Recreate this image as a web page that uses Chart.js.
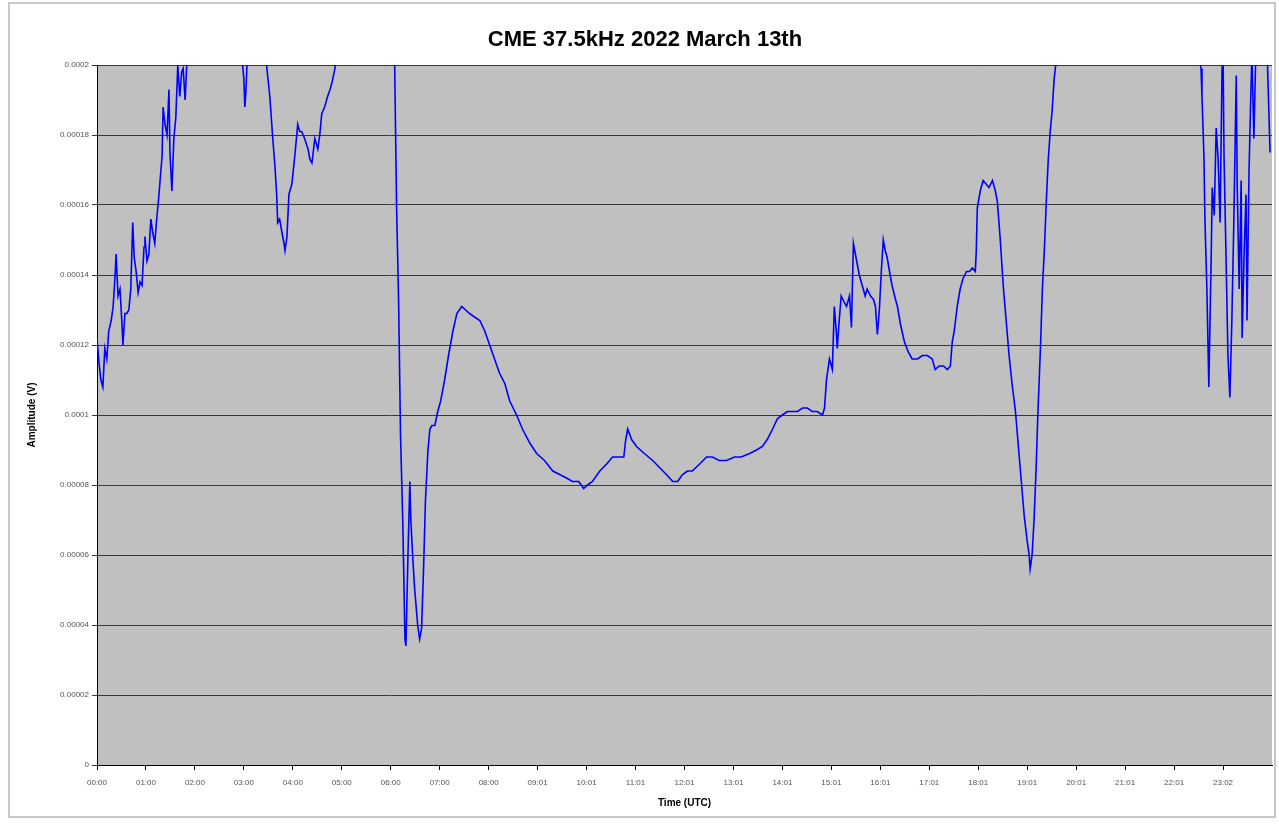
<!DOCTYPE html>
<html><head><meta charset="utf-8">
<script src="https://cdn.jsdelivr.net/npm/chart.js@4"></script>
<style>
html,body{margin:0;padding:0;background:#fff;}
#wrap{position:relative;width:1279px;height:826px;overflow:hidden;}
#frame{position:absolute;left:8px;top:2px;width:1268px;height:816px;border:2px solid #c8c8c8;box-sizing:border-box;}
canvas{position:absolute;left:0;top:0;}
</style></head><body>
<div id="wrap"><div id="frame"></div><canvas id="c" width="1279" height="826"></canvas></div>
<script>
const chartTitle = 'CME 37.5kHz 2022 March 13th';
const xAxisTitle = 'Time (UTC)';
const yAxisTitle = 'Amplitude (V)';
const xTickLabels = ['00:00','01:00','02:00','03:00','04:00','05:00','06:00','07:00','08:00','09:01','10:01','11:01',
  '12:01','13:01','14:01','15:01','16:01','17:01','18:01','19:01','20:01','21:01','22:01','23:02'];
const yTickValues = [0, 0.00002, 0.00004, 0.00006, 0.00008, 0.0001, 0.00012, 0.00014, 0.00016, 0.00018, 0.0002];

// time of day in hours
const timeHours = [
 0.00,0.04,0.08,0.12,0.16,0.20,0.24,0.29,0.33,0.37,0.39,0.43,0.47,0.51,0.53,0.57,0.61,0.65,0.69,0.73,
 0.76,0.80,0.84,0.88,0.92,0.96,0.98,1.02,1.06,1.10,1.14,1.18,1.22,1.26,1.30,1.33,1.35,1.39,1.43,1.47,
 1.49,1.53,1.57,1.61,1.65,1.69,1.73,1.76,1.80,1.84,1.90,2.10,2.40,2.70,2.94,2.98,3.00,3.02,3.04,3.06,
 3.08,3.20,3.35,3.45,3.47,3.53,3.59,3.63,3.67,3.69,3.73,3.78,3.82,3.84,3.88,3.92,3.98,4.04,4.10,4.14,
 4.18,4.24,4.31,4.35,4.39,4.45,4.51,4.55,4.59,4.65,4.71,4.76,4.80,4.86,4.90,5.20,5.60,5.90,6.06,6.08,
 6.12,6.16,6.20,6.245,6.29,6.31,6.35,6.39,6.41,6.45,6.49,6.55,6.59,6.63,6.67,6.71,6.76,6.80,6.84,6.90,
 6.96,7.02,7.10,7.18,7.27,7.35,7.45,7.53,7.61,7.71,7.82,7.92,8.02,8.12,8.22,8.33,8.43,8.57,8.69,8.84,
 8.98,9.14,9.31,9.45,9.59,9.71,9.84,9.94,10.02,10.12,10.27,10.41,10.53,10.65,10.76,10.80,10.84,10.92,11.02,11.18,
 11.35,11.49,11.63,11.76,11.86,11.96,12.06,12.16,12.31,12.45,12.57,12.71,12.86,13.02,13.16,13.33,13.47,13.59,13.69,13.80,
 13.90,14.00,14.10,14.20,14.31,14.41,14.51,14.61,14.71,14.82,14.86,14.90,14.96,15.02,15.06,15.10,15.12,15.16,15.20,15.27,
 15.31,15.37,15.41,15.45,15.49,15.53,15.57,15.63,15.69,15.73,15.80,15.86,15.90,15.94,15.98,16.02,16.06,16.10,16.14,16.20,
 16.24,16.31,16.35,16.41,16.49,16.57,16.65,16.76,16.86,16.96,17.06,17.12,17.20,17.29,17.37,17.43,17.47,17.51,17.57,17.63,
 17.69,17.76,17.82,17.88,17.94,17.96,17.98,18.04,18.10,18.16,18.22,18.29,18.35,18.39,18.45,18.51,18.57,18.63,18.69,18.76,
 18.82,18.88,18.94,19.00,19.04,19.06,19.10,19.14,19.18,19.22,19.27,19.31,19.35,19.39,19.43,19.47,19.51,19.55,19.59,19.80,
 20.50,21.50,22.20,22.51,22.55,22.57,22.61,22.63,22.67,22.71,22.76,22.78,22.82,22.86,22.90,22.94,22.98,23.00,23.02,23.06,
 23.10,23.14,23.18,23.22,23.27,23.29,23.33,23.37,23.39,23.43,23.47,23.49,23.53,23.57,23.59,23.63,23.67,23.73,23.80,23.86,
 23.90,23.96
];

// amplitude in volts
const amplitudeV = [
 12.2e-5,11.5e-5,11.0e-5,10.8e-5,11.9e-5,11.6e-5,12.4e-5,12.7e-5,13.1e-5,14.0e-5,14.6e-5,13.4e-5,13.6e-5,12.6e-5,12.0e-5,12.9e-5,12.9e-5,13.0e-5,13.6e-5,15.5e-5,
 14.5e-5,14.1e-5,13.5e-5,13.8e-5,13.7e-5,14.8e-5,15.1e-5,14.4e-5,14.6e-5,15.6e-5,15.2e-5,14.9e-5,15.6e-5,16.2e-5,16.9e-5,17.4e-5,18.8e-5,18.3e-5,18.0e-5,19.3e-5,
 17.5e-5,16.4e-5,17.9e-5,18.5e-5,20.0e-5,19.1e-5,19.8e-5,19.9e-5,19.0e-5,20.2e-5,21.5e-5,23.5e-5,24.0e-5,22.5e-5,20.8e-5,19.9e-5,19.6e-5,18.8e-5,19.2e-5,19.9e-5,
 20.5e-5,21.2e-5,21.5e-5,20.4e-5,19.9e-5,19.1e-5,17.9e-5,17.2e-5,16.3e-5,15.5e-5,15.6e-5,15.2e-5,14.9e-5,14.7e-5,15.1e-5,16.3e-5,16.6e-5,17.4e-5,18.3e-5,18.1e-5,
 18.1e-5,17.9e-5,17.6e-5,17.3e-5,17.2e-5,17.9e-5,17.6e-5,18.0e-5,18.6e-5,18.8e-5,19.1e-5,19.3e-5,19.5e-5,19.9e-5,20.6e-5,22.5e-5,24.0e-5,22.5e-5,20.5e-5,20.0e-5,
 15.9e-5,13.3e-5,9.4e-5,7.0e-5,3.6e-5,3.4e-5,5.9e-5,8.1e-5,7.0e-5,5.9e-5,5.0e-5,4.0e-5,3.6e-5,3.9e-5,5.6e-5,7.6e-5,9.0e-5,9.6e-5,9.7e-5,9.7e-5,
 10.1e-5,10.4e-5,11.0e-5,11.7e-5,12.4e-5,12.9e-5,13.1e-5,13.0e-5,12.9e-5,12.8e-5,12.7e-5,12.4e-5,12.0e-5,11.6e-5,11.2e-5,10.9e-5,10.4e-5,10.0e-5,9.6e-5,9.2e-5,
 8.9e-5,8.7e-5,8.4e-5,8.3e-5,8.2e-5,8.1e-5,8.1e-5,7.9e-5,8.0e-5,8.1e-5,8.4e-5,8.6e-5,8.8e-5,8.8e-5,8.8e-5,9.3e-5,9.6e-5,9.3e-5,9.1e-5,8.9e-5,
 8.7e-5,8.5e-5,8.3e-5,8.1e-5,8.1e-5,8.3e-5,8.4e-5,8.4e-5,8.6e-5,8.8e-5,8.8e-5,8.7e-5,8.7e-5,8.8e-5,8.8e-5,8.9e-5,9.0e-5,9.1e-5,9.3e-5,9.6e-5,
 9.9e-5,10.0e-5,10.1e-5,10.1e-5,10.1e-5,10.2e-5,10.2e-5,10.1e-5,10.1e-5,10.0e-5,10.2e-5,11.0e-5,11.6e-5,11.3e-5,13.1e-5,12.4e-5,11.9e-5,12.7e-5,13.4e-5,13.2e-5,
 13.1e-5,13.4e-5,12.5e-5,14.9e-5,14.6e-5,14.3e-5,14.0e-5,13.7e-5,13.4e-5,13.6e-5,13.4e-5,13.3e-5,13.1e-5,12.3e-5,13.0e-5,14.1e-5,15.0e-5,14.7e-5,14.5e-5,14.0e-5,
 13.7e-5,13.3e-5,13.1e-5,12.6e-5,12.1e-5,11.8e-5,11.6e-5,11.6e-5,11.7e-5,11.7e-5,11.6e-5,11.3e-5,11.4e-5,11.4e-5,11.3e-5,11.4e-5,12.1e-5,12.4e-5,13.1e-5,13.6e-5,
 13.9e-5,14.1e-5,14.1e-5,14.2e-5,14.1e-5,14.7e-5,15.9e-5,16.4e-5,16.7e-5,16.6e-5,16.5e-5,16.7e-5,16.4e-5,16.1e-5,15.0e-5,13.7e-5,12.7e-5,11.7e-5,10.9e-5,10.1e-5,
 9.1e-5,8.1e-5,7.1e-5,6.4e-5,6.0e-5,5.6e-5,6.0e-5,7.0e-5,8.4e-5,10.1e-5,11.9e-5,13.6e-5,14.7e-5,16.1e-5,17.3e-5,18.1e-5,18.7e-5,19.6e-5,20.1e-5,22.0e-5,
 25.0e-5,25.0e-5,23.0e-5,20.3e-5,19.9e-5,19.1e-5,17.4e-5,15.6e-5,13.6e-5,10.8e-5,14.7e-5,16.5e-5,15.7e-5,18.2e-5,17.3e-5,15.5e-5,19.9e-5,20.4e-5,17.4e-5,14.6e-5,
 11.7e-5,10.5e-5,12.7e-5,15.5e-5,19.7e-5,16.5e-5,13.6e-5,16.7e-5,12.2e-5,14.6e-5,16.3e-5,12.7e-5,16.9e-5,19.3e-5,20.3e-5,17.9e-5,20.4e-5,20.3e-5,20.4e-5,20.3e-5,
 20.4e-5,17.5e-5
];

const points = timeHours.map((t, i) => ({ x: t, y: amplitudeV[i] }));

const FONT = 'Liberation Sans, Arial, sans-serif';

const plotBg = {
  id: 'plotBg',
  beforeDraw(chart) {
    const { ctx, chartArea: a } = chart;
    ctx.save();
    ctx.fillStyle = '#c0c0c0';
    ctx.fillRect(a.left, a.top, a.right - a.left, a.bottom - a.top);
    ctx.restore();
  },
  afterDraw(chart) {
    const { ctx } = chart;
    ctx.save();
    ctx.fillStyle = '#000';
    ctx.font = 'bold 22px ' + FONT;
    ctx.textAlign = 'center';
    ctx.textBaseline = 'middle';
    ctx.fillText(chartTitle, 645, 40);
    ctx.restore();
  }
};

new Chart(document.getElementById('c').getContext('2d'), {
  type: 'line',
  data: {
    datasets: [{
      data: points,
      borderColor: '#0000ff',
      borderWidth: 1.6,
      pointRadius: 0,
      tension: 0,
      fill: false
    }]
  },
  options: {
    responsive: false,
    animation: false,
    devicePixelRatio: 1,
    layout: { padding: { left: 0, right: 7, top: 65, bottom: 0 } },
    plugins: {
      legend: { display: false },
      tooltip: { enabled: false },
      title: { display: false }
    },
    scales: {
      x: {
        type: 'linear',
        min: 0,
        max: 24,
        afterBuildTicks: s => { s.ticks = xTickLabels.map((_, i) => ({ value: i })); },
        afterFit: s => { s.height = 61; },
        ticks: {
          autoSkip: false,
          maxRotation: 0,
          padding: 8,
          color: '#555',
          font: { family: FONT, size: 8 },
          callback: (v, i) => xTickLabels[i]
        },
        grid: { drawOnChartArea: false, color: '#000', tickLength: 5 },
        border: { color: '#000', width: 1 },
        title: {
          display: true,
          text: xAxisTitle,
          color: '#000',
          font: { family: FONT, size: 10, weight: 'bold' },
          padding: { top: 4, bottom: 17 }
        }
      },
      y: {
        min: 0,
        max: 0.0002,
        afterBuildTicks: s => { s.ticks = yTickValues.map(v => ({ value: v })); },
        afterFit: s => { s.width = 97; },
        ticks: {
          padding: 3,
          color: '#555',
          font: { family: FONT, size: 8 },
          callback: v => String(Number(v.toFixed(5)))
        },
        grid: { color: '#383838', lineWidth: 1, tickLength: 5 },
        border: { color: '#000', width: 1 },
        title: {
          display: true,
          text: yAxisTitle,
          color: '#000',
          font: { family: FONT, size: 10, weight: 'bold' },
          padding: { top: 26, bottom: 0 }
        }
      }
    }
  },
  plugins: [plotBg]
});
</script>
</body></html>
